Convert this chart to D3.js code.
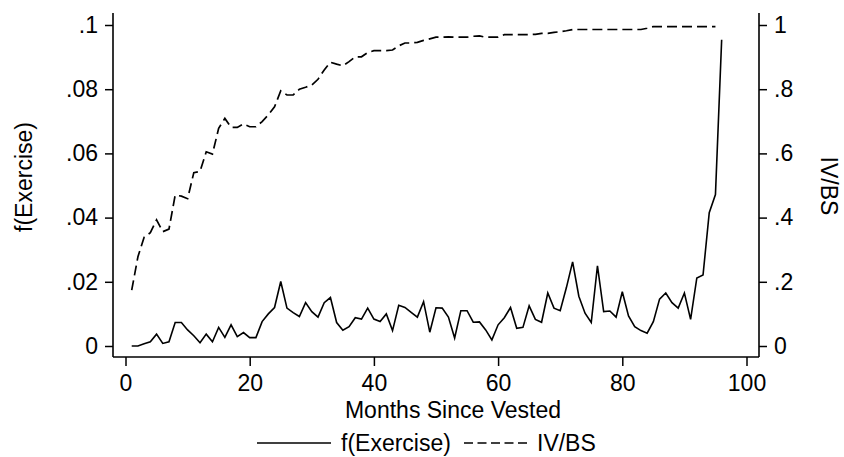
<!DOCTYPE html>
<html>
<head>
<meta charset="utf-8">
<script src="https://cdn.jsdelivr.net/npm/d3@7"></script>
<style>
  body { margin: 0; background: #fff; }
  text { font-family: "Liberation Sans", Arial, sans-serif; fill: #000; }
</style>
</head>
<body>
<svg id="chart" width="844" height="457"></svg>
<script>
// Months since vesting (x categories)
const months = [1, 2, 3, 4, 5, 6, 7, 8, 9, 10, 11, 12, 13, 14, 15, 16, 17, 18, 19, 20,
  21, 22, 23, 24, 25, 26, 27, 28, 29, 30, 31, 32, 33, 34, 35, 36, 37, 38, 39, 40,
  41, 42, 43, 44, 45, 46, 47, 48, 49, 50, 51, 52, 53, 54, 55, 56, 57, 58, 59, 60,
  61, 62, 63, 64, 65, 66, 67, 68, 69, 70, 71, 72, 73, 74, 75, 76, 77, 78, 79, 80,
  81, 82, 83, 84, 85, 86, 87, 88, 89, 90, 91, 92, 93, 94, 95, 96];

// f(Exercise), left axis
const fExercise = [0, 0, 0.0007, 0.0013, 0.0037, 0.0008, 0.0013, 0.0073, 0.0073, 0.005,
  0.0032, 0.001, 0.0037, 0.0013, 0.0058, 0.0027, 0.0066, 0.0029, 0.0042, 0.0026,
  0.0026, 0.0076, 0.01, 0.012, 0.0201, 0.0118, 0.0104, 0.0092, 0.0135, 0.0107,
  0.009, 0.0135, 0.0151, 0.0073, 0.0049, 0.006, 0.0088, 0.0084, 0.0118, 0.0084,
  0.0076, 0.01, 0.0048, 0.0127, 0.012, 0.0105, 0.009, 0.0138, 0.0043, 0.0119,
  0.0118, 0.009, 0.0025, 0.011, 0.011, 0.0074, 0.0075, 0.005, 0.0019, 0.0066,
  0.0088, 0.012, 0.0055, 0.0058, 0.0125, 0.0083, 0.0074, 0.0165, 0.0118, 0.011,
  0.0182, 0.0262, 0.0155, 0.0102, 0.0073, 0.025, 0.0107, 0.0109, 0.009, 0.0169,
  0.0094, 0.006, 0.0048, 0.004, 0.0076, 0.0146, 0.0165, 0.0135, 0.0118, 0.0165,
  0.0083, 0.0212, 0.0221, 0.0415, 0.0472, 0.0954];

// IV/BS, right axis (months 1..95)
const ivbs = [0.174, 0.278, 0.339, 0.353, 0.393, 0.356, 0.364, 0.470, 0.467, 0.459,
  0.540, 0.544, 0.605, 0.598, 0.678, 0.709, 0.681, 0.681, 0.692, 0.683,
  0.683, 0.699, 0.720, 0.745, 0.795, 0.782, 0.782, 0.800, 0.806, 0.813,
  0.831, 0.860, 0.884, 0.878, 0.873, 0.886, 0.901, 0.901, 0.914, 0.920,
  0.920, 0.920, 0.922, 0.935, 0.944, 0.944, 0.946, 0.952, 0.957, 0.962,
  0.962, 0.963, 0.962, 0.962, 0.962, 0.965, 0.966, 0.962, 0.962, 0.962,
  0.970, 0.970, 0.970, 0.970, 0.970, 0.971, 0.974, 0.974, 0.977, 0.979,
  0.982, 0.986, 0.986, 0.986, 0.986, 0.986, 0.986, 0.986, 0.986, 0.986,
  0.986, 0.986, 0.986, 0.990, 0.995, 0.995, 0.995, 0.995, 0.995, 0.995,
  0.995, 0.995, 0.995, 0.995, 0.995];

const xTicks = [0, 20, 40, 60, 80, 100];
const leftTicks = [0, 0.02, 0.04, 0.06, 0.08, 0.1];
const rightTicks = [0, 0.2, 0.4, 0.6, 0.8, 1];

const svg = d3.select("#chart");
svg.append("rect").attr("width", 844).attr("height", 457).attr("fill", "#fff");

const x = d3.scaleLinear().domain([0, 100]).range([125.5, 746.5]);
const yL = d3.scaleLinear().domain([0, 0.1]).range([346, 25]);
const yR = d3.scaleLinear().domain([0, 1]).range([346, 25]);

const fmt = d => d === 0 ? "0" : d3.format("")(d).replace(/^0\./, "."); // Stata style labels

const axLeft = 113, axRight = 759, axBottom = 357, axTop = 13;

// Left axis
const gL = svg.append("g").attr("transform", `translate(${axLeft},0)`)
  .call(d3.axisLeft(yL).tickValues(leftTicks).tickFormat(fmt).tickSize(8).tickPadding(7));
// Right axis
const gR = svg.append("g").attr("transform", `translate(${axRight},0)`)
  .call(d3.axisRight(yR).tickValues(rightTicks).tickFormat(fmt).tickSize(8).tickPadding(7));
// Bottom axis
const gB = svg.append("g").attr("transform", `translate(0,${axBottom})`)
  .call(d3.axisBottom(x).tickValues(xTicks).tickFormat(d3.format("d")).tickSize(9).tickPadding(9));

[gL, gR, gB].forEach(g => {
  g.select(".domain").remove();
  g.selectAll(".tick line").attr("stroke", "#000").attr("stroke-width", 1.5);
  g.selectAll(".tick text").attr("font-size", 23).attr("font-family", "Liberation Sans, Arial, sans-serif");
});

// Axis lines
const frame = svg.append("g").attr("stroke", "#000").attr("stroke-width", 1.6);
frame.append("line").attr("x1", axLeft).attr("x2", axLeft).attr("y1", axTop).attr("y2", axBottom);
frame.append("line").attr("x1", axRight).attr("x2", axRight).attr("y1", axTop).attr("y2", axBottom);
frame.append("line").attr("x1", axLeft).attr("x2", axRight).attr("y1", axBottom).attr("y2", axBottom);

// Lines
const lineL = d3.line().x((d, i) => x(months[i])).y(d => yL(d));
const lineR = d3.line().x((d, i) => x(months[i])).y(d => yR(d));

svg.append("path").datum(ivbs)
  .attr("d", lineR).attr("fill", "none").attr("stroke", "#000")
  .attr("stroke-width", 1.7).attr("stroke-dasharray", "10,5");

svg.append("path").datum(fExercise)
  .attr("d", lineL).attr("fill", "none").attr("stroke", "#000")
  .attr("stroke-width", 1.6).attr("stroke-linejoin", "miter");

// Titles
svg.append("text").attr("transform", "translate(32,177) rotate(-90)")
  .attr("text-anchor", "middle").attr("font-size", 23).text("f(Exercise)");
svg.append("text").attr("transform", "translate(821,186) rotate(90)")
  .attr("text-anchor", "middle").attr("font-size", 23).text("IV/BS");
svg.append("text").attr("x", 453).attr("y", 418)
  .attr("text-anchor", "middle").attr("font-size", 23).text("Months Since Vested");

// Legend
const leg = svg.append("g");
leg.append("line").attr("x1", 257).attr("x2", 331).attr("y1", 443).attr("y2", 443)
  .attr("stroke", "#000").attr("stroke-width", 1.6);
leg.append("text").attr("x", 341).attr("y", 451).attr("font-size", 23).text("f(Exercise)");
leg.append("line").attr("x1", 464).attr("x2", 527).attr("y1", 443).attr("y2", 443)
  .attr("stroke", "#000").attr("stroke-width", 1.6).attr("stroke-dasharray", "9,4.5");
leg.append("text").attr("x", 537).attr("y", 451).attr("font-size", 23).text("IV/BS");
</script>
</body>
</html>
